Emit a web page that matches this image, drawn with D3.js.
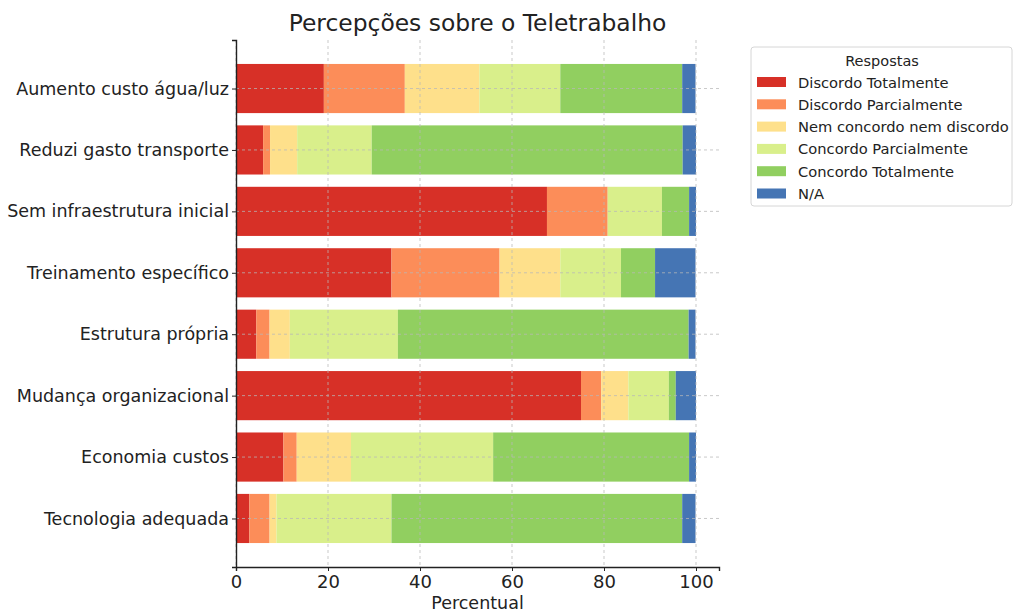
<!DOCTYPE html>
<html>
<head>
<meta charset="utf-8">
<script src="https://cdn.jsdelivr.net/npm/d3@7"></script>
<style>
  html, body { margin: 0; padding: 0; background: #fff; }
  svg { display: block; font-family: "DejaVu Sans", sans-serif; }
</style>
</head>
<body>
<svg id="chart" width="1014" height="612"></svg>
<script>
// Survey items (top to bottom)
const categories = [
  "Aumento custo água/luz",
  "Reduzi gasto transporte",
  "Sem infraestrutura inicial",
  "Treinamento específico",
  "Estrutura própria",
  "Mudança organizacional",
  "Economia custos",
  "Tecnologia adequada"
];

// Response options, in stacking order
const responses = [
  "Discordo Totalmente",
  "Discordo Parcialmente",
  "Nem concordo nem discordo",
  "Concordo Parcialmente",
  "Concordo Totalmente",
  "N/A"
];

// Percentage of respondents per option, one array per response
const discordoTotalmente   = [19.1,  5.9, 67.6, 33.8,  4.4, 75.0, 10.3,  2.9];
const discordoParcialmente = [17.6,  1.5, 13.2, 23.5,  2.9,  4.4,  2.9,  4.4];
const nemConcordo          = [16.2,  5.9,  0.0, 13.2,  4.4,  5.9, 11.8,  1.5];
const concordoParcialmente = [17.6, 16.2, 11.8, 13.2, 23.5,  8.8, 30.9, 25.0];
const concordoTotalmente   = [26.5, 67.6,  5.9,  7.4, 63.2,  1.5, 42.6, 63.2];
const naoAplica            = [ 2.9,  2.9,  1.5,  8.8,  1.5,  4.4,  1.5,  2.9];

const xTicks = [0, 20, 40, 60, 80, 100];

const colors = ["#d73027", "#fc8d59", "#fee08b", "#d9ef8b", "#91cf60", "#4575b4"];

const seriesValues = [discordoTotalmente, discordoParcialmente, nemConcordo,
                      concordoParcialmente, concordoTotalmente, naoAplica];

const rows = categories.map((c, i) => {
  const r = { category: c };
  responses.forEach((k, j) => { r[k] = seriesValues[j][i]; });
  return r;
});

const svg = d3.select("#chart");
const plot = { left: 236, right: 719, top: 40, bottom: 567 };

const x = d3.scaleLinear().domain([0, 105]).range([plot.left, plot.right]);

// Categorical axis as index 0..7, bar height 0.8, with 5% margins
const y = d3.scaleLinear().domain([-0.79, 7.79]).range([plot.top, plot.bottom]);
const barH = 0.8;

const stacked = d3.stack().keys(responses)(rows);

const bars = svg.append("g");
stacked.forEach((layer, j) => {
  bars.selectAll(null)
    .data(layer)
    .join("rect")
    .attr("x", d => x(d[0]))
    .attr("width", d => Math.max(0, x(d[1]) - x(d[0])))
    .attr("y", (d, i) => y(i - barH / 2))
    .attr("height", y(barH) - y(0))
    .attr("fill", colors[j]);
});

// Dashed grid drawn over the bars
const grid = svg.append("g")
  .attr("stroke", "#b8b8b8")
  .attr("stroke-width", 1)
  .attr("stroke-dasharray", "3,3")
  .attr("opacity", 0.75);
grid.selectAll(null).data(xTicks).join("line")
  .attr("x1", d => x(d)).attr("x2", d => x(d))
  .attr("y1", plot.top).attr("y2", plot.bottom);
grid.selectAll(null).data(categories).join("line")
  .attr("x1", plot.left).attr("x2", plot.right)
  .attr("y1", (d, i) => y(i)).attr("y2", (d, i) => y(i));

// Axes
const xAxis = d3.axisBottom(x).tickValues(xTicks).tickSize(4).tickPadding(4);
const gx = svg.append("g").attr("transform", `translate(0,${plot.bottom})`).call(xAxis);
gx.select(".domain").attr("stroke", "#222").attr("stroke-width", 1.4);
gx.selectAll(".tick line").attr("stroke", "#222");
gx.selectAll(".tick text").attr("font-size", 18).attr("fill", "#222")
  .attr("font-family", "DejaVu Sans, sans-serif");

const yAxis = d3.axisLeft(y).tickValues(d3.range(categories.length))
  .tickFormat(i => categories[i]).tickSize(4).tickPadding(3);
const gy = svg.append("g").attr("transform", `translate(${plot.left},0)`).call(yAxis);
gy.select(".domain").attr("stroke", "#222").attr("stroke-width", 1.4);
gy.selectAll(".tick line").attr("stroke", "#222");
gy.selectAll(".tick text").attr("font-size", 17.5).attr("fill", "#222")
  .attr("font-family", "DejaVu Sans, sans-serif");

// Title and axis label
svg.append("text")
  .attr("x", (plot.left + plot.right) / 2).attr("y", 31)
  .attr("text-anchor", "middle").attr("font-size", 23.4).attr("fill", "#222")
  .text("Percepções sobre o Teletrabalho");

svg.append("text")
  .attr("x", (plot.left + plot.right) / 2).attr("y", 609)
  .attr("text-anchor", "middle").attr("font-size", 17.5).attr("fill", "#222")
  .text("Percentual");

// Legend
const lg = svg.append("g").attr("transform", "translate(751,47)");
lg.append("rect")
  .attr("width", 261).attr("height", 159).attr("rx", 3)
  .attr("fill", "#fff").attr("stroke", "#d6d6d6");
lg.append("text")
  .attr("x", 131).attr("y", 19).attr("text-anchor", "middle")
  .attr("font-size", 14.5).attr("fill", "#222").text("Respostas");
const items = lg.selectAll("g.item").data(responses).join("g")
  .attr("class", "item")
  .attr("transform", (d, i) => `translate(6,${30 + i * 22.3})`);
items.append("rect").attr("width", 29).attr("height", 10)
  .attr("fill", (d, i) => colors[i]);
items.append("text").attr("x", 41).attr("y", 10.5)
  .attr("font-size", 14.7).attr("fill", "#222").text(d => d);
</script>
</body>
</html>
